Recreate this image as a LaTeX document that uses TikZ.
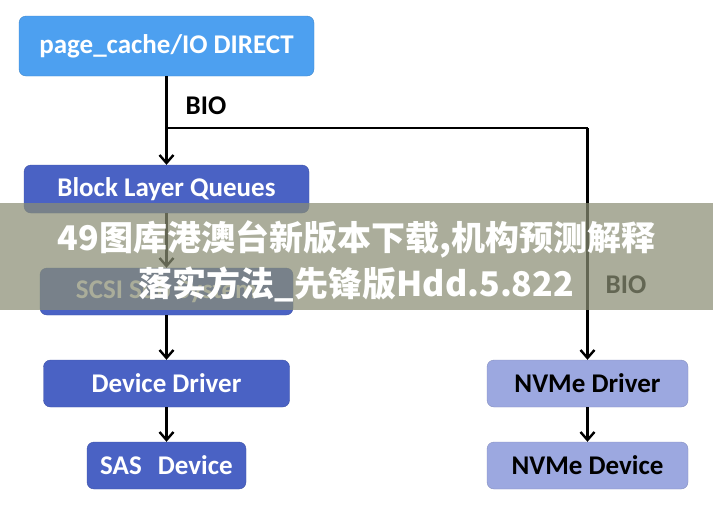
\documentclass[tikz,border=0pt]{standalone}
\usepackage{fontspec}
\setmainfont{Carlito}
\newfontfamily\cjk{Noto Sans CJK SC}
\usetikzlibrary{arrows.meta}
\definecolor{pageblue}{HTML}{4DA0F0}
\definecolor{layerblue}{HTML}{4A62C4}
\definecolor{nvmeblue}{HTML}{9CA8E0}
\definecolor{bannergray}{HTML}{8A8E74}
\begin{document}
\begin{tikzpicture}[x=1pt,y=-1pt,
    box/.style={rounded corners=7pt,minimum height=47pt,inner sep=0pt,font=\fontsize{27}{30}\selectfont\bfseries},
    kernbox/.style={box,fill=layerblue,draw=layerblue!85!black,text=white},
    nvmebox/.style={box,fill=nvmeblue,draw=nvmeblue!85!black,text=black},
    arr/.style={line width=2.6pt,-{Straight Barb[length=8pt,width=14pt,line width=2.4pt]}},
    lbl/.style={font=\fontsize{27}{30}\selectfont\bfseries}]
            \useasboundingbox (0,0) rectangle (713,515);

            \node[box,fill=pageblue,draw=pageblue!85!black,text=white,minimum width=295pt,minimum height=60pt] (page) at (166.5,46) {page\_cache/IO DIRECT};
            \node[kernbox,minimum width=285pt,minimum height=48pt] (blq) at (166.5,189) {Block Layer Queues};
            \node[kernbox,minimum width=253pt] (scsi) at (166.5,291.5) {SCSI Sub System};
            \node[kernbox,minimum width=246pt] (drv) at (166.5,383.5) {Device Driver};
            \node[kernbox,minimum width=159pt] (sas) at (166.5,465.5) {SAS\hspace{0.6em}Device};
            \node[nvmebox,minimum width=201pt] (nvdrv) at (587.5,383.5) {NVMe Driver};
            \node[nvmebox,minimum width=201pt] (nvdev) at (587.5,465.5) {NVMe Device};

            \coordinate (split) at (166.5,128);
            \draw[arr] (page) -- (blq);
            \draw[line width=2.6pt] (split) -- (587.5,128);
            \draw[arr] (587.5,128) -- (nvdrv);
            \draw[arr] (blq) -- (scsi);
            \draw[arr] (scsi) -- (drv);
            \draw[arr] (drv) -- (sas);
            \draw[arr] (nvdrv) -- (nvdev);

            \node[lbl] (bio1) at (206,106) {BIO};
            \node[lbl] (bio2) at (626,285) {BIO};

            \fill[bannergray,opacity=0.72] (0,203) rectangle (713,310);
            \node[text=white,align=center,font=\cjk\bfseries\fontsize{34}{46}\selectfont] (banner) at (356.5,261) {49图库港澳台新版本下载,机构预测解释\\落实方法\_先锋版Hdd.5.822};
\end{tikzpicture}
\end{document}
